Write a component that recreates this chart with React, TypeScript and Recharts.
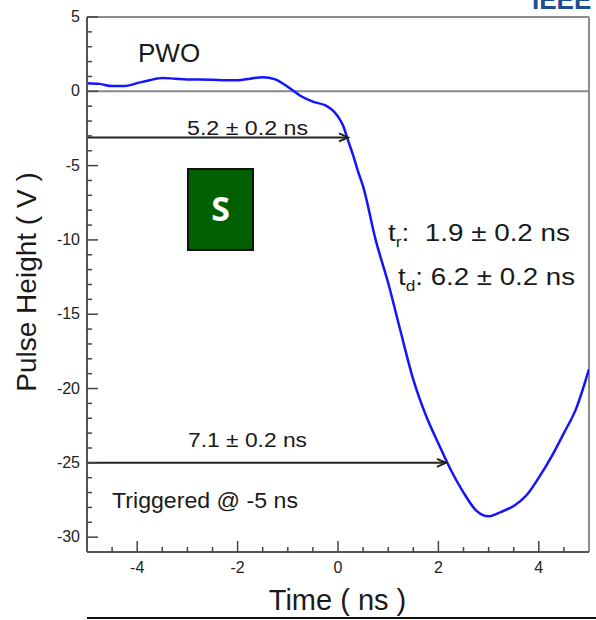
import React from 'react';
import { LineChart, Line, XAxis, YAxis, ReferenceLine } from 'recharts';

// pulse shape (time in ns, height in V)
const times = [
  -5, -4.75, -4.5, -4.25, -4, -3.75, -3.5, -3.25, -3, -2.75, -2.5, -2.25, -2, -1.75, -1.5, -1.25,
  -1, -0.75, -0.5, -0.25, -0.1, 0, 0.1, 0.2, 0.3, 0.4, 0.5, 0.75, 1, 1.25, 1.5, 1.75, 2, 2.25,
  2.5, 2.75, 3, 3.25, 3.5, 3.75, 4, 4.25, 4.5, 4.75, 5,
];
const heights = [
  0.55, 0.5, 0.35, 0.35, 0.55, 0.75, 0.9, 0.85, 0.8, 0.8, 0.78, 0.75, 0.75, 0.85, 0.95, 0.8,
  0.3, -0.3, -0.7, -0.95, -1.3, -1.7, -2.3, -3.3, -4.3, -5.4, -6.4, -10, -12.9, -16.2, -19.4, -21.8,
  -23.7, -25.5, -27.0, -28.2, -28.6, -28.3, -27.9, -27.2, -26.0, -24.6, -23.0, -21.3, -18.7,
];

const xTicks = [-4.5, -4, -3.5, -3, -2.5, -2, -1.5, -1, -0.5, 0, 0.5, 1, 1.5, 2, 2.5, 3, 3.5, 4, 4.5];
const yTicks = [
  -30, -29, -28, -27, -26, -25, -24, -23, -22, -21, -20, -19, -18, -17, -16, -15, -14, -13,
  -12, -11, -10, -9, -8, -7, -6, -5, -4, -3, -2, -1, 0, 1, 2, 3, 4, 5,
];

// arrows: y level and end time
const riseArrow = { y: -3.1, end: 0.2 };
const peakArrow = { y: -25, end: 2.15 };

const data = times.map((t, i) => ({ t, v: heights[i] }));

const FONT = '"Liberation Sans", Arial, Helvetica, sans-serif';

const YTick = (props: any) => {
  const { x, y, payload } = props;
  const major = payload.value % 5 === 0;
  return (
    <g>
      <line x1={x} y1={y} x2={x + (major ? 11 : 5)} y2={y} stroke="#444" strokeWidth={1.5} />
      {major && (
        <text x={x - 7} y={y} dy={5} textAnchor="end" fontSize={16} fontFamily={FONT} fill="#222">
          {payload.value}
        </text>
      )}
    </g>
  );
};

const XTick = (props: any) => {
  const { x, y, payload } = props;
  const major = payload.value % 2 === 0;
  return (
    <g>
      <line x1={x} y1={y} x2={x} y2={y - (major ? 11 : 5)} stroke="#444" strokeWidth={1.5} />
      {major && (
        <text x={x} y={y + 21} textAnchor="middle" fontSize={16} fontFamily={FONT} fill="#222">
          {payload.value}
        </text>
      )}
    </g>
  );
};

const Arrow = (props: any) => {
  const { x1, y1, x2, y2 } = props;
  return (
    <g>
      <line x1={x1} y1={y1} x2={x2} y2={y2} stroke="#222" strokeWidth={2} />
      <path d={`M${x2 - 9},${y2 - 4} L${x2},${y2} L${x2 - 9},${y2 + 4}`} fill="none" stroke="#222" strokeWidth={2} />
    </g>
  );
};

export default function App() {
  return (
    <div style={{ position: 'absolute', left: 0, top: 0, width: 596, height: 620, overflow: 'hidden', background: '#fff' }}>
      <LineChart width={596} height={620} data={data} margin={{ top: 17, right: 7, left: 0, bottom: 28 }}>
        <XAxis
          dataKey="t"
          type="number"
          domain={[-5, 5]}
          ticks={xTicks}
          interval={0}
          tickSize={0}
          tickMargin={0}
          tickLine={false}
          tick={<XTick />}
          height={40}
          axisLine={{ stroke: '#555', strokeWidth: 2 }}
          allowDataOverflow
        />
        <YAxis
          type="number"
          domain={[-31, 5]}
          ticks={yTicks}
          interval={0}
          tickSize={0}
          tickMargin={0}
          tickLine={false}
          tick={<YTick />}
          width={87}
          axisLine={{ stroke: '#555', strokeWidth: 2 }}
          allowDataOverflow
        />
        <ReferenceLine y={5} stroke="#8c8c8c" strokeWidth={2} />
        <ReferenceLine x={5} stroke="#8c8c8c" strokeWidth={2} />
        <ReferenceLine y={0} stroke="#888" strokeWidth={2} />
        <Line
          type="monotone"
          dataKey="v"
          stroke="#1414ff"
          strokeWidth={2.5}
          dot={false}
          isAnimationActive={false}
        />
        <ReferenceLine
          segment={[{ x: -5, y: riseArrow.y }, { x: riseArrow.end, y: riseArrow.y }]}
          shape={Arrow}
        />
        <ReferenceLine
          segment={[{ x: -5, y: peakArrow.y }, { x: peakArrow.end, y: peakArrow.y }]}
          shape={Arrow}
        />
      </LineChart>

      <svg width={596} height={620} style={{ position: 'absolute', left: 0, top: 0, pointerEvents: 'none' }}>
        <g fontFamily={FONT} fill="#1a1a1a" style={{ whiteSpace: 'pre' }}>
          <text x={138} y={62} fontSize={26}>PWO</text>
          <text x={187} y={135} fontSize={20} textLength={121} lengthAdjust="spacingAndGlyphs">5.2 ± 0.2 ns</text>
          <text x={188} y={447} fontSize={20} textLength={119} lengthAdjust="spacingAndGlyphs">7.1 ± 0.2 ns</text>
          <text x={112} y={508} fontSize={22} textLength={186} lengthAdjust="spacingAndGlyphs">Triggered @ -5 ns</text>
          <text x={388} y={241} fontSize={24} textLength={182} lengthAdjust="spacingAndGlyphs">
            t<tspan dy={6} fontSize={15}>r</tspan>
            <tspan dy={-6}>{':\u00a0 1.9 ± 0.2 ns'}</tspan>
          </text>
          <text x={398} y={285} fontSize={24} textLength={177} lengthAdjust="spacingAndGlyphs">
            t<tspan dy={6} fontSize={15}>d</tspan>
            <tspan dy={-6}>: 6.2 ± 0.2 ns</tspan>
          </text>
          <text x={337.5} y={610} fontSize={29} textAnchor="middle">Time ( ns )</text>
          <text transform="translate(36,282) rotate(-90)" fontSize={28} textAnchor="middle">Pulse Height ( V )</text>
        </g>
        <text x={532} y={9} fontSize={26} fontWeight="bold" fontFamily={FONT} fill="#1d4f8e">IEEE</text>
        <line x1={87} y1={618} x2={596} y2={618} stroke="#111" strokeWidth={2} />
        <rect x={188} y={169} width={65} height={81} fill="#006000" stroke="#111" strokeWidth={2} />
        <text x={220.5} y={221} fontSize={34} fontWeight="bold" fontFamily='"Open Sans", sans-serif' fill="#fff" textAnchor="middle">S</text>
      </svg>
    </div>
  );
}
